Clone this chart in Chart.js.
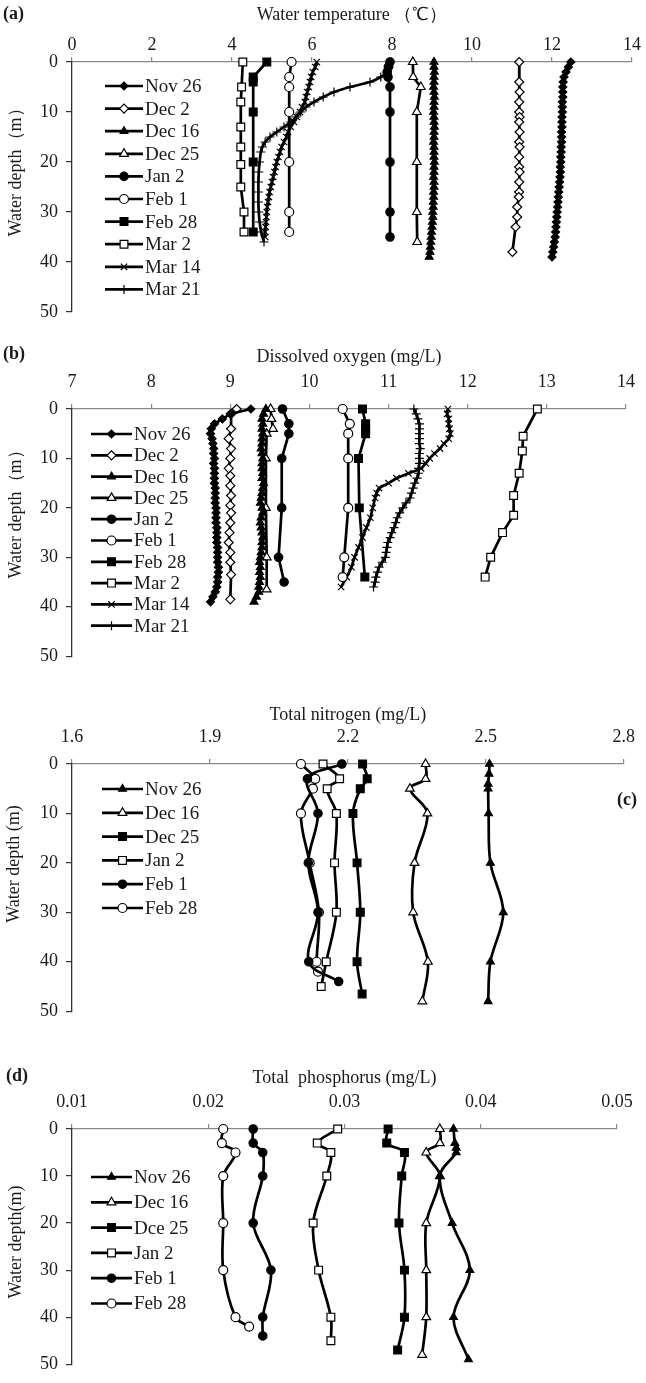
<!DOCTYPE html>
<html>
<head>
<meta charset="utf-8">
<script src="https://cdn.jsdelivr.net/npm/chart.js@4.4.0/dist/chart.umd.min.js"></script>
<style>
  html, body { margin: 0; padding: 0; background: #fff; }
  #page { position: relative; width: 646px; height: 1383px; overflow: hidden; }
  .panel { position: absolute; left: 0; width: 646px; }
  .panel canvas { display: block; }
</style>
</head>
<body>
<div id="page">
  <div class="panel" style="top:0;height:335px"><canvas id="chartA"></canvas></div>
  <div class="panel" style="top:340px;height:335px"><canvas id="chartB"></canvas></div>
  <div class="panel" style="top:690px;height:340px"><canvas id="chartC"></canvas></div>
  <div class="panel" style="top:1030px;height:353px"><canvas id="chartD"></canvas></div>
</div>
<script>
/* ===== (a) Water temperature (°C) vs depth (m) ===== */
const aNov26Depth = [0,1,2,3,4,5,6,7,8,9,10,11,12,13,14,15,16,17,18,19,20,21,22,23,24,25,26,27,28,29,30,31,32,33,34,35,36,37,38,39];
const aNov26Temp = [12.47,12.41,12.35,12.30,12.28,12.27,12.27,12.27,12.26,12.26,12.26,12.25,12.25,12.25,12.24,12.24,12.24,12.23,12.23,12.22,12.22,12.21,12.21,12.20,12.19,12.18,12.17,12.16,12.15,12.14,12.13,12.12,12.11,12.10,12.09,12.08,12.06,12.04,12.02,12.00];
const aDec2Depth = [0,4,6,8,10,11,12,14,16,17,19,21,22,24,26,27,29,31,33,38];
const aDec2Temp = [11.18,11.18,11.19,11.18,11.18,11.19,11.18,11.19,11.18,11.19,11.18,11.18,11.19,11.18,11.18,11.17,11.13,11.13,11.09,11.01];
const aDec16Depth = [0,1,2,3,4,5,6,7,8,9,10,11,12,13,14,15,16,17,18,19,20,21,22,23,24,25,26,27,28,29,30,31,32,33,34,35,36,37,38,39];
const aDec16Temp = [9.05,9.05,9.06,9.05,9.05,9.04,9.05,9.06,9.05,9.05,9.04,9.05,9.05,9.06,9.05,9.05,9.04,9.05,9.05,9.05,9.06,9.05,9.05,9.04,9.05,9.05,9.04,9.04,9.03,9.03,9.02,9.02,9.01,9.00,8.99,8.98,8.97,8.96,8.95,8.93];
const aDec25Depth = [0,3,5,10,20,30,36];
const aDec25Temp = [8.52,8.53,8.72,8.62,8.62,8.62,8.63];
const aJan2Depth = [0,1,2,3,5,10,20,30,35];
const aJan2Temp = [7.95,7.91,7.88,7.90,7.95,7.95,7.95,7.95,7.95];
const aFeb1Depth = [0,3,5,10,20,30,34];
const aFeb1Temp = [5.49,5.43,5.43,5.43,5.43,5.43,5.43];
const aFeb28Depth = [0,3,4,10,20,34];
const aFeb28Temp = [4.87,4.53,4.53,4.53,4.53,4.53];
const aMar2Depth = [0,5,8,13,17,20.5,25,30,34];
const aMar2Temp = [4.27,4.24,4.22,4.22,4.22,4.22,4.22,4.30,4.30];
const aMar14Depth = [0,1,2,3,4,5,6,7,8,9,10,11,12,13,14,15,16,17,18,19,20,21,22,23,24,25,26,27,28,29,30,31,32,33,34,35];
const aMar14Temp = [6.12,6.08,6.02,5.98,5.95,5.92,5.88,5.85,5.82,5.75,5.70,5.62,5.55,5.47,5.40,5.36,5.30,5.24,5.20,5.16,5.12,5.09,5.06,5.03,5.00,4.97,4.94,4.92,4.90,4.88,4.87,4.86,4.85,4.84,4.83,4.83];
const aMar21Depth = [0,1,2,3,4,5,6,7,8,9,10,11,12,13,14,15,16,17,18,20,22,24,26,28,30,32,34,36];
const aMar21Temp = [7.95,7.93,7.88,7.72,7.45,6.95,6.55,6.28,6.05,5.85,5.72,5.60,5.47,5.30,5.12,4.95,4.83,4.76,4.72,4.69,4.67,4.66,4.66,4.66,4.67,4.69,4.73,4.80];

/* ===== (b) Dissolved oxygen (mg/L) ===== */
const bNov26Depth = [0,1,2,3,4,5,6,7,8,9,10,11,12,13,14,15,16,17,18,19,20,21,22,23,24,25,26,27,28,29,30,31,32,33,34,35,36,37,38,39];
const bNov26DO = [9.26,9.00,8.90,8.80,8.76,8.75,8.77,8.78,8.79,8.79,8.80,8.79,8.80,8.80,8.80,8.80,8.81,8.81,8.81,8.81,8.82,8.82,8.82,8.82,8.83,8.83,8.83,8.83,8.84,8.84,8.84,8.84,8.85,8.85,8.84,8.84,8.83,8.81,8.78,8.75];
const bDec2Depth = [0,1,4,6,8,10,12,13.5,15.5,17.5,19.5,21,23,25,27,29,31,33.5,38.5];
const bDec2DO = [9.08,9.01,9.01,8.98,9.01,9.00,8.98,9.00,9.00,9.01,9.00,9.01,9.00,8.99,8.98,9.00,9.00,9.01,9.00];
const bDec16Depth = [0,1,2,3,4,5,6,7,8,9,10,11,12,13,14,15,16,17,18,19,20,21,22,23,24,25,26,27,28,29,30,31,32,33,34,35,36,37,38,39];
const bDec16DO = [9.45,9.42,9.40,9.41,9.40,9.41,9.40,9.40,9.39,9.40,9.41,9.40,9.40,9.41,9.40,9.42,9.41,9.40,9.39,9.38,9.40,9.41,9.39,9.38,9.39,9.40,9.41,9.40,9.40,9.39,9.38,9.37,9.38,9.37,9.38,9.37,9.36,9.36,9.33,9.30];
const bDec25Depth = [0,2,4,5,10,20,30,36.5];
const bDec25DO = [9.51,9.52,9.54,9.46,9.45,9.45,9.46,9.46];
const bJan2Depth = [0,3,5,10,20,30,35];
const bJan2DO = [9.66,9.74,9.74,9.65,9.65,9.61,9.68];
const bFeb1Depth = [0,3,5,10,20,30,34];
const bFeb1DO = [10.42,10.51,10.49,10.49,10.49,10.44,10.42];
const bFeb28Depth = [0,3,4,5,10,20,34];
const bFeb28DO = [10.67,10.71,10.71,10.71,10.62,10.63,10.70];
const bMar2Depth = [0,5.5,8.5,13,17.5,21.5,25,30,34];
const bMar2DO = [12.88,12.70,12.69,12.65,12.58,12.58,12.44,12.29,12.22];
const bMar14Depth = [0,1,2,3,4,5,6,7,8,9,10,11,12,13,14,15,16,17,18,20,22,24,26,28,30,32,34,36];
const bMar14DO = [11.75,11.74,11.76,11.76,11.77,11.78,11.76,11.70,11.65,11.58,11.52,11.47,11.41,11.25,11.10,11.00,10.88,10.85,10.83,10.80,10.77,10.72,10.67,10.62,10.57,10.53,10.47,10.40];
const bMar21Depth = [0,1,2,3,4,5,6,7,8,9,10,11,12,13,14,15,16,17,18,19,20,21,22,23,24,25,26,27,28,29,30,31,32,33,34,35,36];
const bMar21DO = [11.32,11.35,11.37,11.39,11.39,11.39,11.39,11.39,11.40,11.39,11.39,11.39,11.38,11.38,11.36,11.33,11.31,11.29,11.27,11.22,11.18,11.14,11.11,11.09,11.07,11.04,11.02,10.99,10.98,10.97,10.96,10.92,10.88,10.86,10.84,10.83,10.81];

/* ===== (c) Total nitrogen (mg/L) ===== */
const cNov26Depth = [0,2,4,5,10,20,30,40,48];
const cNov26TN = [2.508,2.507,2.505,2.505,2.506,2.510,2.538,2.510,2.505];
const cDec16Depth = [0,3,5,10,20,30,40,48];
const cDec16TN = [2.369,2.369,2.335,2.373,2.345,2.342,2.374,2.362];
const cDec25Depth = [0,3,5,10,20,30,40,46.5];
const cDec25TN = [2.232,2.242,2.227,2.211,2.220,2.227,2.220,2.231];
const cJan2Depth = [0,3,5,10,20,30,40,45];
const cJan2TN = [2.146,2.182,2.155,2.175,2.171,2.175,2.153,2.142];
const cFeb1Depth = [0,3,10,20,30,40,44];
const cFeb1TN = [2.187,2.112,2.135,2.114,2.135,2.115,2.180];
const cFeb28Depth = [0,3,5,10,20,30,40,42];
const cFeb28TN = [2.098,2.129,2.124,2.098,2.117,2.137,2.132,2.135];

/* ===== (d) Total phosphorus (mg/L) ===== */
const dNov26Depth = [0,3,4,5,10,20,30,40,49];
const dNov26TP = [0.0380,0.0381,0.0382,0.0382,0.0370,0.0379,0.0392,0.0380,0.0391];
const dDec16Depth = [0,3,5,10,20,30,40,48];
const dDec16TP = [0.0370,0.0370,0.0360,0.0370,0.0360,0.0360,0.0360,0.0357];
const dDec25Depth = [0,3,5,10,20,30,40,47];
const dDec25TP = [0.0332,0.0331,0.0344,0.0342,0.0340,0.0344,0.0344,0.0339];
const dJan2Depth = [0,3,5,10,20,30,40,45];
const dJan2TP = [0.0295,0.0280,0.0290,0.0287,0.0277,0.0281,0.0290,0.0290];
const dFeb1Depth = [0,3,5,10,20,30,40,44];
const dFeb1TP = [0.0233,0.0233,0.0240,0.0240,0.0233,0.0246,0.0240,0.0240];
const dFeb28Depth = [0,3,5,10,20,30,40,42];
const dFeb28TP = [0.0211,0.0210,0.0220,0.0211,0.0211,0.0211,0.0220,0.0230];

const FONT = '"Liberation Serif", "Times New Roman", serif';
const INK = '#1a1a1a';

// marker looks, Excel style
const MK = {
  dia:     { shape: 'rectRot',  r: 4,   fill: '#000' },
  diaO:    { shape: 'rectRot',  r: 4.5, fill: '#fff' },
  tri:     { shape: 'triangle', r: 4.5, fill: '#000' },
  triO:    { shape: 'triangle', r: 5,   fill: '#fff' },
  dot:     { shape: 'circle',   r: 4.2, fill: '#000' },
  dotO:    { shape: 'circle',   r: 4.5, fill: '#fff' },
  sq:      { shape: 'rect',     r: 5.5, fill: '#000' },
  sqO:     { shape: 'rect',     r: 5.5, fill: '#fff' },
  x:       { shape: 'crossRot', r: 4.5, fill: '#000' },
  plus:    { shape: 'cross',    r: 4.5, fill: '#000' }
};

function series(label, depths, values, mk, tension) {
  return {
    label,
    data: depths.map((d, i) => ({ x: values[i], y: d })),
    showLine: true,
    borderColor: '#000',
    borderWidth: 2.7,
    tension: tension || 0,
    pointStyle: mk.shape,
    pointRadius: mk.r,
    pointHoverRadius: mk.r,
    pointBackgroundColor: mk.fill,
    pointBorderColor: '#000',
    pointBorderWidth: 1.2,
    clip: false
  };
}

// panel letter, rotated y title and in-plot legend
const panelDeco = {
  id: 'panelDeco',
  afterDraw(chart, args, opts) {
    const ctx = chart.ctx;
    ctx.save();
    ctx.fillStyle = INK;
    ctx.textBaseline = 'middle';
    ctx.textAlign = 'left';
    ctx.font = 'bold 18px ' + FONT;
    ctx.fillText(opts.tag, opts.tagX, opts.tagY);

    ctx.save();
    ctx.translate(opts.yTitleX, opts.yTitleY);
    ctx.rotate(-Math.PI / 2);
    ctx.textAlign = 'center';
    ctx.font = '18px ' + FONT;
    ctx.fillText(opts.yTitle, 0, 0);
    ctx.restore();

    const lg = opts.legend;
    ctx.font = '19px ' + FONT;
    chart.data.datasets.forEach((ds, i) => {
      const y = lg.y0 + i * lg.step;
      ctx.strokeStyle = '#000';
      ctx.lineWidth = 2.7;
      ctx.beginPath();
      ctx.moveTo(lg.x0, y);
      ctx.lineTo(lg.x1, y);
      ctx.stroke();
      ctx.fillStyle = ds.pointBackgroundColor;
      ctx.lineWidth = ds.pointBorderWidth;
      Chart.helpers.drawPoint(ctx, {
        pointStyle: ds.pointStyle, radius: ds.pointRadius,
        borderWidth: ds.pointBorderWidth, rotation: 0
      }, (lg.x0 + lg.x1) / 2, y);
      ctx.fillStyle = INK;
      ctx.fillText(ds.label, lg.x1 + 2, y + 1);
    });
    ctx.restore();
  }
};

function makePanel(id, p) {
  return new Chart(document.getElementById(id), {
    type: 'scatter',
    data: { datasets: p.datasets },
    options: {
      responsive: true,
      maintainAspectRatio: false,
      animation: false,
      layout: { padding: { left: 0, top: 0, right: p.padRight, bottom: p.padBottom } },
      plugins: {
        legend: { display: false },
        tooltip: { enabled: false },
        panelDeco: p.deco
      },
      scales: {
        x: {
          type: 'linear',
          position: 'top',
          min: p.xMin, max: p.xMax,
          ticks: {
            stepSize: p.xStep,
            padding: p.tickPad,
            color: INK,
            font: { family: FONT, size: 18 },
            callback: v => v.toFixed(p.decimals)
          },
          grid: { drawOnChartArea: false, drawTicks: true, tickLength: 5, color: '#8a8a8a', lineWidth: 1.2 },
          border: { color: '#8a8a8a', width: 1.3 },
          title: {
            display: true, text: p.xTitle, color: INK,
            font: { family: FONT, size: 18 },
            padding: { top: p.titlePad, bottom: 0 }
          },
          afterFit(scale) { scale.height = p.axisTop; }
        },
        y: {
          type: 'linear',
          reverse: true,
          min: 0, max: 50,
          ticks: {
            stepSize: 10, padding: 8, color: INK,
            font: { family: FONT, size: 18 }
          },
          grid: { drawOnChartArea: false, drawTicks: true, tickLength: 6, color: '#333', lineWidth: 1.2 },
          border: { color: '#333', width: 1.3 },
          afterFit(scale) { scale.width = 72; }
        }
      }
    },
    plugins: [panelDeco]
  });
}

makePanel('chartA', {
  xMin: 0, xMax: 14, xStep: 2, decimals: 0,
  xTitle: 'Water temperature （℃）',
  axisTop: 62, padRight: 14, padBottom: 23, titlePad: 4, tickPad: 1,
  deco: {
    tag: '(a)', tagX: 3, tagY: 14, yTitle: 'Water depth（m）', yTitleX: 16, yTitleY: 168,
    legend: { x0: 105, x1: 143, y0: 86, step: 22.6 }
  },
  datasets: [
    series('Nov 26', aNov26Depth, aNov26Temp, MK.dia),
    series('Dec 2', aDec2Depth, aDec2Temp, MK.diaO),
    series('Dec 16', aDec16Depth, aDec16Temp, MK.tri),
    series('Dec 25', aDec25Depth, aDec25Temp, MK.triO),
    series('Jan 2', aJan2Depth, aJan2Temp, MK.dot),
    series('Feb 1', aFeb1Depth, aFeb1Temp, MK.dotO),
    series('Feb 28', aFeb28Depth, aFeb28Temp, MK.sq),
    series('Mar 2', aMar2Depth, aMar2Temp, MK.sqO),
    series('Mar 14', aMar14Depth, aMar14Temp, MK.x, 0.3),
    series('Mar 21', aMar21Depth, aMar21Temp, MK.plus, 0.3)
  ]
});

makePanel('chartB', {
  xMin: 7, xMax: 14, xStep: 1, decimals: 0,
  xTitle: 'Dissolved oxygen (mg/L)',
  axisTop: 69, padRight: 11, padBottom: 16, titlePad: 6, tickPad: 11,
  deco: {
    tag: '(b)', tagX: 3, tagY: 14, yTitle: 'Water depth（m）', yTitleX: 16, yTitleY: 170,
    legend: { x0: 91, x1: 132, y0: 94, step: 21.3 }
  },
  datasets: [
    series('Nov 26', bNov26Depth, bNov26DO, MK.dia),
    series('Dec 2', bDec2Depth, bDec2DO, MK.diaO),
    series('Dec 16', bDec16Depth, bDec16DO, MK.tri),
    series('Dec 25', bDec25Depth, bDec25DO, MK.triO),
    series('Jan 2', bJan2Depth, bJan2DO, MK.dot),
    series('Feb 1', bFeb1Depth, bFeb1DO, MK.dotO),
    series('Feb 28', bFeb28Depth, bFeb28DO, MK.sq),
    series('Mar 2', bMar2Depth, bMar2DO, MK.sqO),
    series('Mar 14', bMar14Depth, bMar14DO, MK.x, 0.3),
    series('Mar 21', bMar21Depth, bMar21DO, MK.plus, 0.3)
  ]
});

makePanel('chartC', {
  xMin: 1.6, xMax: 2.8, xStep: 0.3, decimals: 1,
  xTitle: 'Total nitrogen (mg/L)',
  axisTop: 74, padRight: 18, padBottom: 16, titlePad: 14, tickPad: 11,
  deco: {
    tag: '(c)', tagX: 617, tagY: 110, yTitle: 'Water depth (m)', yTitleX: 14, yTitleY: 174,
    legend: { x0: 102, x1: 143, y0: 99, step: 23.8 }
  },
  datasets: [
    series('Nov 26', cNov26Depth, cNov26TN, MK.tri, 0.35),
    series('Dec 16', cDec16Depth, cDec16TN, MK.triO, 0.35),
    series('Dec 25', cDec25Depth, cDec25TN, MK.sq, 0.35),
    series('Jan 2', cJan2Depth, cJan2TN, MK.sqO, 0.35),
    series('Feb 1', cFeb1Depth, cFeb1TN, MK.dot, 0.35),
    series('Feb 28', cFeb28Depth, cFeb28TN, MK.dotO, 0.35)
  ]
});

makePanel('chartD', {
  xMin: 0.01, xMax: 0.05, xStep: 0.01, decimals: 2,
  xTitle: 'Total  phosphorus (mg/L)',
  axisTop: 99, padRight: 29, padBottom: 10, titlePad: 37, tickPad: 11,
  deco: {
    tag: '(d)', tagX: 6, tagY: 46, yTitle: 'Water depth(m)', yTitleX: 16, yTitleY: 212,
    legend: { x0: 91, x1: 132, y0: 147, step: 25.3 }
  },
  datasets: [
    series('Nov 26', dNov26Depth, dNov26TP, MK.tri, 0.35),
    series('Dec 16', dDec16Depth, dDec16TP, MK.triO, 0.35),
    series('Dce 25', dDec25Depth, dDec25TP, MK.sq, 0.35),
    series('Jan 2', dJan2Depth, dJan2TP, MK.sqO, 0.35),
    series('Feb 1', dFeb1Depth, dFeb1TP, MK.dot, 0.35),
    series('Feb 28', dFeb28Depth, dFeb28TP, MK.dotO, 0.35)
  ]
});
</script>
</body>
</html>
